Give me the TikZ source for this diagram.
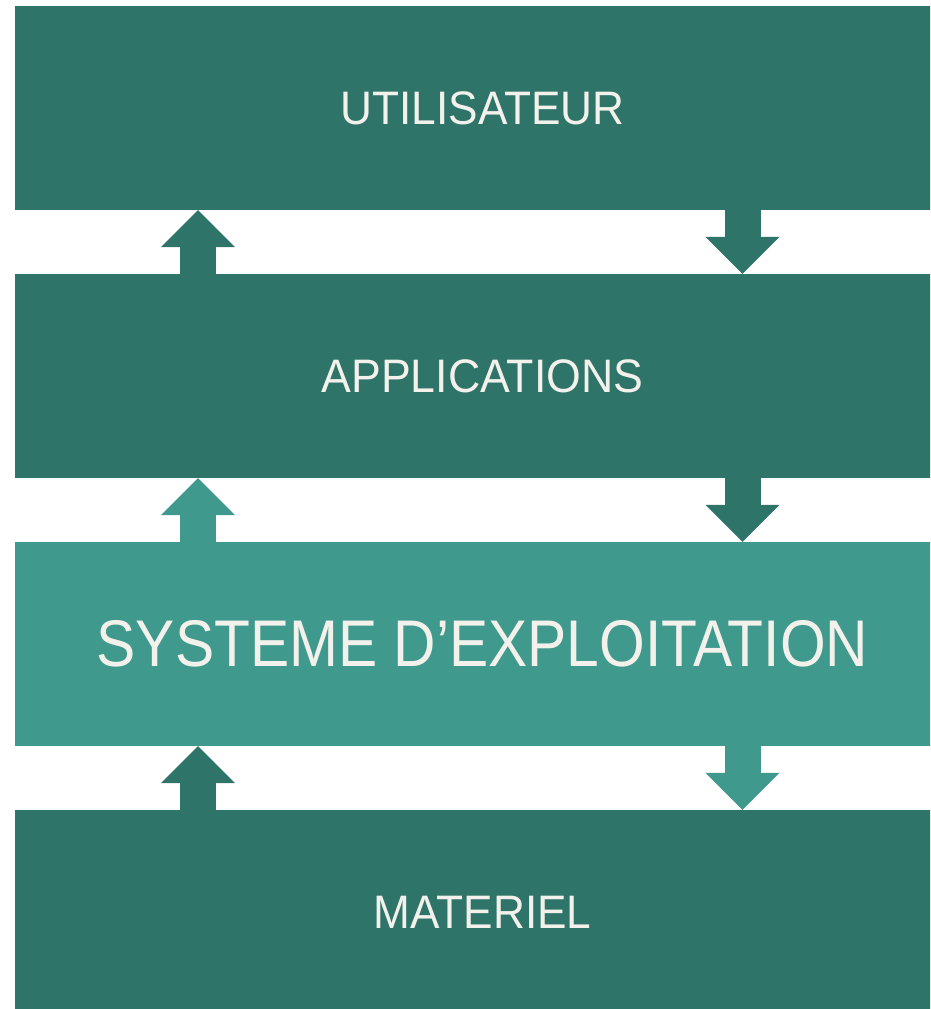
\documentclass[tikz,border=0pt]{standalone}
\usepackage{fontspec}
\setmainfont{Liberation Sans}
\usepackage{graphicx}
\usetikzlibrary{arrows.meta}
\definecolor{darkteal}{RGB}{46,116,105}
\definecolor{lightteal}{RGB}{63,154,141}
\definecolor{labeltext}{RGB}{243,241,236}
\newcommand{\layertext}[2]{\scalebox{#1}[1]{#2}}

\begin{document}
\begin{tikzpicture}[x=1pt,y=-1pt,
    layer/.style={minimum width=935pt,minimum height=204pt,inner sep=0pt,
      text=labeltext,font=\fontsize{47}{47}\selectfont},
    flow/.style={line width=36pt,-{Triangle[width=74pt,length=37pt,line width=0pt]}}]
  \clip (0,0) rectangle (930,1009);
  % layers
  \node[layer,fill=darkteal] (user) at (482.5,108) {\layertext{0.94}{UTILISATEUR}};
  \node[layer,fill=darkteal] (apps) at (482.5,376) {\layertext{0.95}{APPLICATIONS}};
  \node[layer,fill=lightteal,font=\fontsize{66}{66}\selectfont] (os) at (482.5,644)
    {\layertext{0.89}{SYSTEME D’EXPLOITATION}};
  \node[layer,fill=darkteal] (hw) at (482.5,912) {\layertext{0.94}{MATERIEL}};
  \coordinate (up) at (198,0);
  \coordinate (down) at (742.5,0);
  % arrows
  \begin{scope}
    \draw[flow,darkteal] (apps.north -| up) to (user.south -| up);
    \draw[flow,darkteal] (user.south -| down) to (apps.north -| down);
    \draw[flow,lightteal] (os.north -| up) to (apps.south -| up);
    \draw[flow,darkteal] (apps.south -| down) to (os.north -| down);
    \draw[flow,darkteal] (hw.north -| up) to (os.south -| up);
    \draw[flow,lightteal] (os.south -| down) to (hw.north -| down);
  \end{scope}
\end{tikzpicture}
\end{document}
